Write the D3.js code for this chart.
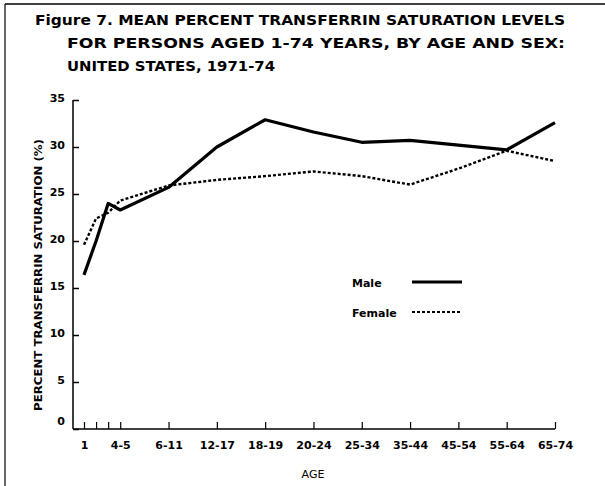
<!DOCTYPE html>
<html>
<head>
<meta charset="utf-8">
<script src="https://cdn.jsdelivr.net/npm/d3@7"></script>
<style>
  html, body { margin: 0; padding: 0; background: #fff; }
  svg { display: block; }
  text { font-family: "DejaVu Sans", sans-serif; fill: #000; }
</style>
</head>
<body>
<svg id="chart" width="605" height="486"></svg>
<script>
// ---- data ----
const ageGroups = ["1", "2", "3", "4-5", "6-11", "12-17", "18-19", "20-24", "25-34", "35-44", "45-54", "55-64", "65-74"];
const ageSlots  = [0, 0.25, 0.5, 0.75, 1.75, 2.75, 3.75, 4.75, 5.75, 6.75, 7.75, 8.75, 9.75];
const ageTickLabels = ["1", "", "", "4-5", "6-11", "12-17", "18-19", "20-24", "25-34", "35-44", "45-54", "55-64", "65-74"];
const maleValues   = [16.4, 20.0, 24.0, 23.3, 25.7, 30.0, 32.9, 31.6, 30.5, 30.7, 30.2, 29.7, 32.6];
const femaleValues = [19.6, 22.4, 23.0, 24.3, 25.9, 26.5, 26.9, 27.4, 26.9, 26.0, 27.7, 29.6, 28.5];
const yTicks = [0, 5, 10, 15, 20, 25, 30, 35];
const titleLines = [
  "Figure 7. MEAN PERCENT TRANSFERRIN SATURATION LEVELS",
  "FOR  PERSONS  AGED 1-74  YEARS, BY AGE AND SEX:",
  "UNITED STATES, 1971-74"
];
const seriesNames = ["Male", "Female"];

// ---- layout ----
const svg = d3.select("#chart");
const axisX0 = 73, axisY0 = 429;
const x = d3.scaleLinear().domain([0, 9.75]).range([84, 555]);
const y = d3.scaleLinear().domain([0, 35]).range([axisY0, 100]);

// frame
svg.append("line").attr("x1", 5).attr("x2", 605).attr("y1", 4).attr("y2", 4)
  .attr("stroke", "#000").attr("stroke-width", 1.5);
svg.append("line").attr("x1", 5).attr("x2", 5).attr("y1", 4).attr("y2", 486)
  .attr("stroke", "#000").attr("stroke-width", 1.2);

// title
const titleX = [35, 67, 67];
const titleY = [25, 48, 71];
const titleW = [530, 498, 208];
svg.selectAll("text.title").data(titleLines).join("text")
  .attr("class", "title")
  .attr("x", (d, i) => titleX[i]).attr("y", (d, i) => titleY[i])
  .attr("font-size", 14.5).attr("font-weight", "bold")
  .attr("textLength", (d, i) => titleW[i]).attr("lengthAdjust", "spacingAndGlyphs")
  .text(d => d);

// y axis
const yAxis = d3.axisRight(y).tickValues(yTicks).tickSize(6).tickFormat(d3.format("d"));
const gy = svg.append("g").attr("transform", `translate(${axisX0},0)`).call(yAxis);
gy.select(".domain").attr("d", `M0,${y(35)}V${axisY0}`).attr("stroke", "#000").attr("stroke-width", 1.5);
gy.selectAll(".tick line").attr("stroke", "#000").attr("stroke-width", 1.5);
gy.selectAll(".tick text").attr("x", -8).attr("text-anchor", "end")
  .attr("font-size", 11).attr("font-weight", "bold").attr("dy", "0.1em")
  .style("font-family", "'DejaVu Sans', sans-serif");
gy.selectAll(".tick").filter(d => d === 0).select("text").attr("dy", "-0.4em");

// x axis
const xAxis = d3.axisTop(x).tickValues(ageSlots).tickSize(7).tickFormat((d, i) => ageTickLabels[i]);
const gx = svg.append("g").attr("transform", `translate(0,${axisY0})`).call(xAxis);
gx.select(".domain").attr("d", `M${axisX0},0H${x(9.75)}`).attr("stroke", "#000").attr("stroke-width", 1.5);
gx.selectAll(".tick line").attr("stroke", "#000").attr("stroke-width", 1.2);
gx.selectAll(".tick text").attr("y", 20).attr("dy", 0)
  .attr("font-size", 11).attr("font-weight", "bold")
  .style("font-family", "'DejaVu Sans', sans-serif");

// axis titles
svg.append("text").attr("transform", "translate(42,275) rotate(-90)")
  .attr("text-anchor", "middle").attr("font-size", 11).attr("font-weight", "bold")
  .attr("textLength", 272).attr("lengthAdjust", "spacingAndGlyphs")
  .text("PERCENT TRANSFERRIN SATURATION (%)");
svg.append("text").attr("x", 313).attr("y", 478).attr("text-anchor", "middle")
  .attr("font-size", 11).text("AGE");

// lines
const line = d3.line().x((d, i) => x(ageSlots[i])).y(d => y(d));
svg.append("path").datum(femaleValues).attr("d", line)
  .attr("fill", "none").attr("stroke", "#000").attr("stroke-width", 2.4)
  .attr("stroke-dasharray", "3,2");
svg.append("path").datum(maleValues).attr("d", line)
  .attr("fill", "none").attr("stroke", "#000").attr("stroke-width", 3.2)
  .attr("stroke-linejoin", "round");

// legend
const legY = [283, 313];
const legend = svg.selectAll("g.leg").data(seriesNames).join("g").attr("class", "leg");
legend.append("text").attr("x", 352).attr("y", (d, i) => legY[i] + 4)
  .attr("font-size", 11).attr("font-weight", "bold").text(d => d);
legend.append("line").attr("x1", 412).attr("x2", 462)
  .attr("y1", (d, i) => legY[i] - 1).attr("y2", (d, i) => legY[i] - 1)
  .attr("stroke", "#000")
  .attr("stroke-width", (d, i) => i === 0 ? 3 : 2)
  .attr("stroke-dasharray", (d, i) => i === 0 ? null : "3,2");
</script>
</body>
</html>
